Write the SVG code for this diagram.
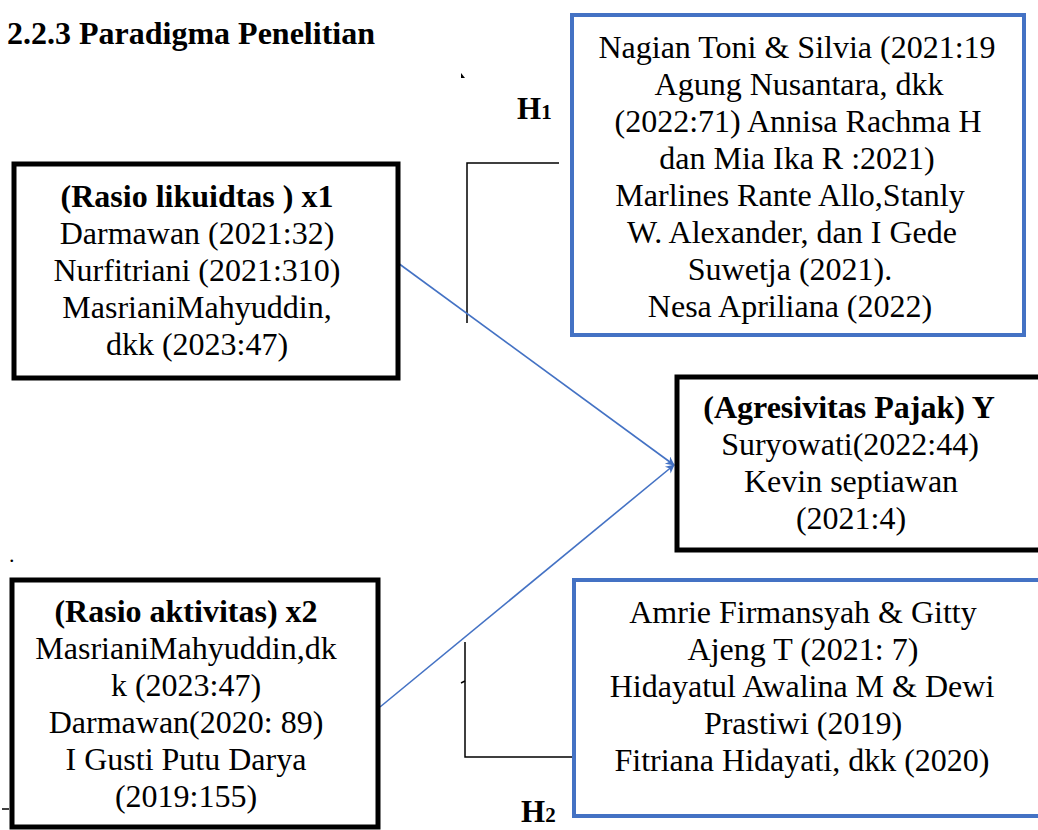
<svg xmlns="http://www.w3.org/2000/svg" width="1038" height="830" viewBox="0 0 1038 830">
<style>
text{font-family:"Liberation Serif","Times New Roman",serif;fill:#000}
.t{font-size:32px;text-anchor:middle}
.b{font-weight:bold}
.bk{fill:#fff;stroke:#000;stroke-width:5}
.bl{fill:#fff;stroke:#4472C4;stroke-width:4}
.ln{stroke:#000;stroke-width:1.5;fill:none}
.ar{stroke:#4472C4;stroke-width:1.6;fill:none;marker-end:url(#ah)}
.h{font-size:31px;font-weight:bold}
.hs{font-size:21px}
</style>
<defs>
<marker id="ah" viewBox="0 0 10 10" refX="9" refY="5" markerWidth="11" markerHeight="9" orient="auto" markerUnits="userSpaceOnUse">
<path d="M0,0 L10,5 L0,10 L3,5 Z" fill="#4472C4"/>
</marker>
</defs>
<rect width="1038" height="830" fill="#fff"/>
<text x="7" y="44" style="font-size:32px;font-weight:bold">2.2.3 Paradigma Penelitian</text>
<text x="9" y="562" style="font-size:22px">.</text>
<path d="M461,73 L465,78 L461,78 Z" fill="#000"/>
<line class="ln" x1="2" y1="809" x2="9" y2="809"/>

<g id="connectors">
<polyline class="ln" points="559,163 467,163 467,323"/>
<polyline class="ln" points="465,642 465,757 574,757"/>
<line class="ln" x1="461" y1="683" x2="465" y2="681"/>
<line class="ar" x1="398" y1="263" x2="674" y2="465"/>
<line class="ar" x1="380" y1="707" x2="674" y2="465"/>
</g>

<g id="h1"><text class="h" x="517" y="119">H<tspan class="hs">1</tspan></text></g>
<g id="h2"><text class="h" x="521" y="822">H<tspan class="hs">2</tspan></text></g>

<g id="x1">
<rect class="bk" x="14" y="164" width="384" height="214"/>
<text class="t b" x="197" y="207">(Rasio likuidtas ) x1</text>
<text class="t" x="197" y="244">Darmawan (2021:32)</text>
<text class="t" x="197" y="281">Nurfitriani (2021:310)</text>
<text class="t" x="197" y="318">MasrianiMahyuddin,</text>
<text class="t" x="197" y="355">dkk (2023:47)</text>
</g>

<g id="x2">
<rect class="bk" x="12" y="580" width="366" height="247"/>
<text class="t b" x="186" y="622">(Rasio aktivitas) x2</text>
<text class="t" x="186" y="659">MasrianiMahyuddin,dk</text>
<text class="t" x="186" y="696">k (2023:47)</text>
<text class="t" x="186" y="733">Darmawan(2020: 89)</text>
<text class="t" x="186" y="770">I Gusti Putu Darya</text>
<text class="t" x="186" y="807">(2019:155)</text>
</g>

<g id="ref1">
<rect class="bl" x="572" y="15" width="452" height="320"/>
<text class="t" x="797" y="58">Nagian Toni &amp; Silvia (2021:19</text>
<text class="t" x="799" y="95">Agung Nusantara, dkk</text>
<text class="t" x="798" y="132">(2022:71) Annisa Rachma H</text>
<text class="t" x="797" y="169">dan Mia Ika R :2021)</text>
<text class="t" x="790" y="206">Marlines Rante Allo,Stanly</text>
<text class="t" x="792" y="243">W. Alexander, dan I Gede</text>
<text class="t" x="790" y="280">Suwetja (2021).</text>
<text class="t" x="790" y="317">Nesa Apriliana (2022)</text>
</g>

<g id="y">
<rect class="bk" x="677" y="377" width="400" height="173"/>
<text class="t b" x="849" y="418">(Agresivitas Pajak) Y</text>
<text class="t" x="850" y="455">Suryowati(2022:44)</text>
<text class="t" x="851" y="492">Kevin septiawan</text>
<text class="t" x="851" y="529">(2021:4)</text>
</g>

<g id="ref2">
<rect class="bl" x="574" y="580" width="480" height="236"/>
<text class="t" x="803" y="623">Amrie Firmansyah &amp; Gitty</text>
<text class="t" x="803" y="660">Ajeng T (2021: 7)</text>
<text class="t" x="802" y="697">Hidayatul Awalina M &amp; Dewi</text>
<text class="t" x="803" y="734">Prastiwi (2019)</text>
<text class="t" x="802" y="771">Fitriana Hidayati, dkk (2020)</text>
</g>
</svg>
